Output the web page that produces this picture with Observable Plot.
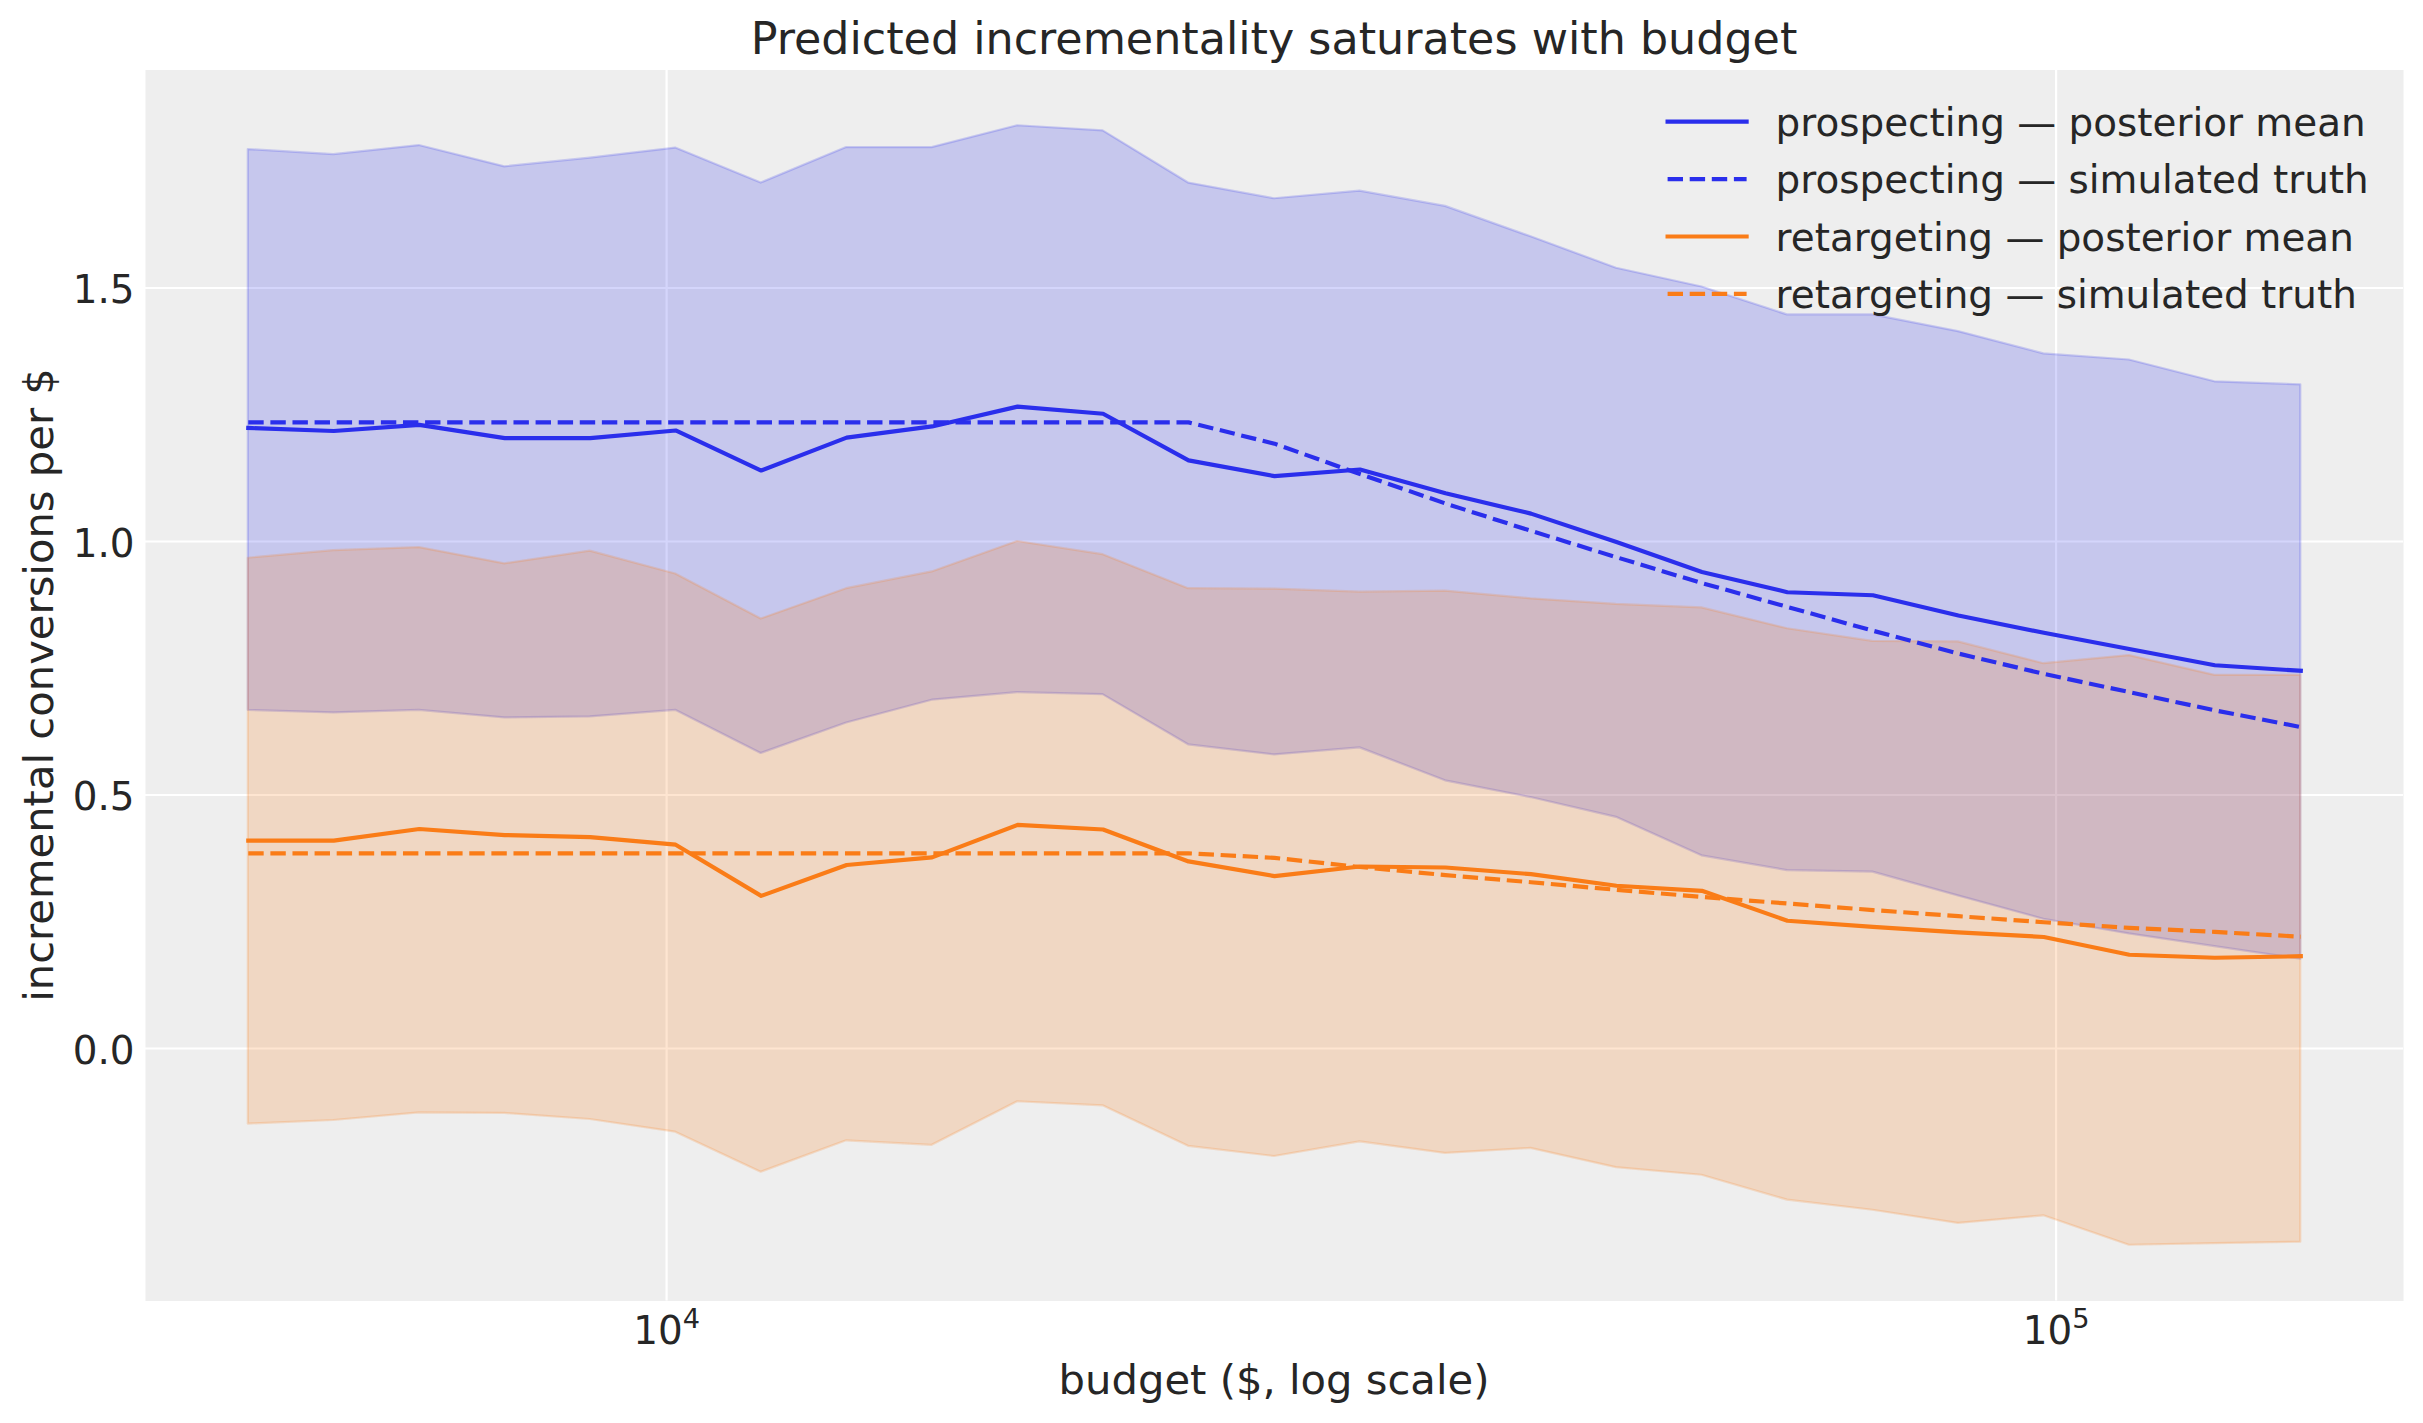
<!DOCTYPE html>
<html>
<head>
<meta charset="utf-8">
<script src="https://cdn.jsdelivr.net/npm/d3@7"></script>
<script src="https://cdn.jsdelivr.net/npm/@observablehq/plot@0.6"></script>
<style>
  html, body { margin: 0; padding: 0; background: #ffffff; }
  #wrap { position: relative; width: 2423px; height: 1423px; overflow: hidden; }
  #wrap svg { position: absolute; left: 0; top: 0; }
</style>
</head>
<body>
<div id="wrap"></div>
<script>
// ---- data ----
const budget = [5000, 5761, 6638, 7648, 8811, 10152, 11697, 13477, 15528, 17890, 20613, 23749,
  27386, 31553, 36355, 41887, 48261, 55605, 64066, 73815, 85047, 97989, 112900, 130080, 150000];

const prospMean = [1.224, 1.218, 1.230, 1.204, 1.204, 1.219, 1.140, 1.205, 1.227, 1.266, 1.252, 1.160,
  1.129, 1.142, 1.095, 1.055, 0.999, 0.940, 0.900, 0.894, 0.854, 0.820, 0.788, 0.756, 0.745];
const prospTruth = [1.235, 1.235, 1.235, 1.235, 1.235, 1.235, 1.235, 1.235, 1.235, 1.235, 1.235, 1.235,
  1.193, 1.133, 1.075, 1.021, 0.969, 0.918, 0.871, 0.824, 0.779, 0.739, 0.703, 0.667, 0.634];
const prospLow = [0.667, 0.662, 0.667, 0.652, 0.654, 0.667, 0.582, 0.642, 0.687, 0.702, 0.698, 0.599,
  0.579, 0.593, 0.528, 0.495, 0.456, 0.380, 0.351, 0.348, 0.301, 0.255, 0.226, 0.201, 0.176];
const prospHigh = [1.773, 1.763, 1.781, 1.739, 1.756, 1.776, 1.707, 1.777, 1.777, 1.820, 1.810, 1.707,
  1.676, 1.691, 1.661, 1.601, 1.539, 1.502, 1.447, 1.447, 1.414, 1.370, 1.358, 1.315, 1.309];

const retMean = [0.410, 0.410, 0.433, 0.421, 0.417, 0.402, 0.301, 0.362, 0.377, 0.441, 0.432, 0.369,
  0.340, 0.359, 0.357, 0.344, 0.321, 0.311, 0.252, 0.240, 0.229, 0.220, 0.185, 0.179, 0.182];
const retTruth = [0.385, 0.385, 0.385, 0.385, 0.385, 0.385, 0.385, 0.385, 0.385, 0.385, 0.385, 0.385,
  0.376, 0.358, 0.342, 0.328, 0.313, 0.299, 0.286, 0.273, 0.261, 0.249, 0.238, 0.230, 0.2205];
const retLow = [-0.149, -0.142, -0.127, -0.128, -0.140, -0.165, -0.244, -0.182, -0.191, -0.105, -0.113, -0.193,
  -0.213, -0.184, -0.207, -0.197, -0.235, -0.250, -0.299, -0.319, -0.345, -0.330, -0.388, -0.385, -0.382];
const retHigh = [0.967, 0.982, 0.988, 0.956, 0.981, 0.936, 0.847, 0.907, 0.940, 1.000, 0.974, 0.907,
  0.906, 0.900, 0.902, 0.887, 0.876, 0.869, 0.828, 0.803, 0.802, 0.759, 0.775, 0.736, 0.736];

const yTicks = [0, 0.5, 1.0, 1.5];
const xTicks = [1e4, 1e5];

const titleText = "Predicted incrementality saturates with budget";
const xLabel = "budget ($, log scale)";
const yLabel = "incremental conversions per $";
const legendLabels = [
  "prospecting \u2014 posterior mean",
  "prospecting \u2014 simulated truth",
  "retargeting \u2014 posterior mean",
  "retargeting \u2014 simulated truth"
];

// ---- styling ----
const W = 2423, H = 1423;
const blue = "#2a2eec", orange = "#fa7c17";
const textColor = "#262626";
const font = "'DejaVu Sans', sans-serif";
const lw = 4.17, dash = "15.4,6.7";
const sup = {"0":"\u2070","1":"\u00b9","2":"\u00b2","3":"\u00b3","4":"\u2074","5":"\u2075","6":"\u2076","7":"\u2077","8":"\u2078","9":"\u2079"};

const rows = budget.map((b, i) => ({
  budget: b,
  pMean: prospMean[i], pTruth: prospTruth[i], pLow: prospLow[i], pHigh: prospHigh[i],
  rMean: retMean[i], rTruth: retTruth[i], rLow: retLow[i], rHigh: retHigh[i]
}));

const chart = Plot.plot({
  width: W,
  height: H,
  marginLeft: 145,
  marginRight: 20,
  marginTop: 69.5,
  marginBottom: 122.5,
  style: {fontFamily: font, fontSize: "38.9px", color: textColor, background: "#ffffff"},
  x: {type: "log", domain: [4217, 177828]},
  y: {domain: [-0.498, 1.930]},
  marks: [
    Plot.frame({fill: "#eeeeee", stroke: "none"}),
    Plot.gridY(yTicks, {stroke: "#ffffff", strokeOpacity: 1, strokeWidth: 2.2}),
    Plot.gridX(xTicks, {stroke: "#ffffff", strokeOpacity: 1, strokeWidth: 2.2}),
    Plot.areaY(rows, {x: "budget", y1: "pLow", y2: "pHigh", fill: blue, fillOpacity: 0.2,
      stroke: blue, strokeOpacity: 0.2, strokeWidth: 2.2}),
    Plot.areaY(rows, {x: "budget", y1: "rLow", y2: "rHigh", fill: orange, fillOpacity: 0.2,
      stroke: orange, strokeOpacity: 0.2, strokeWidth: 2.2}),
    Plot.lineY(rows, {x: "budget", y: "pMean", stroke: blue, strokeWidth: lw,
      strokeLinejoin: "round", strokeLinecap: "square"}),
    Plot.lineY(rows, {x: "budget", y: "pTruth", stroke: blue, strokeWidth: lw,
      strokeDasharray: dash, strokeLinejoin: "round", strokeLinecap: "butt"}),
    Plot.lineY(rows, {x: "budget", y: "rMean", stroke: orange, strokeWidth: lw,
      strokeLinejoin: "round", strokeLinecap: "square"}),
    Plot.lineY(rows, {x: "budget", y: "rTruth", stroke: orange, strokeWidth: lw,
      strokeDasharray: dash, strokeLinejoin: "round", strokeLinecap: "butt"}),
    Plot.axisY(yTicks, {anchor: "left", tickSize: 0, tickPadding: 11, dy: 3,
      tickFormat: d3.format(".1f"), label: null, fontSize: 38.9, fill: textColor}),
    Plot.axisX(xTicks, {anchor: "bottom", tickSize: 0, tickPadding: 15,
      tickFormat: d => "10" + String(Math.round(Math.log10(d))).split("").map(c => sup[c]).join(""),
      label: null, fontSize: 38.9, fill: textColor})
  ]
});

// render x tick exponents as real superscripts (mathtext style)
chart.querySelectorAll('g[aria-label="x-axis tick label"] text').forEach(t => {
  const s = t.textContent;
  const rev = Object.fromEntries(Object.entries(sup).map(([k, v]) => [v, k]));
  const exp = s.slice(2).split("").map(c => rev[c] ?? c).join("");
  t.textContent = "10";
  const ts = document.createElementNS("http://www.w3.org/2000/svg", "tspan");
  ts.setAttribute("dy", "-16");
  ts.setAttribute("font-size", "27.2");
  ts.textContent = exp;
  t.appendChild(ts);
});

const wrap = document.getElementById("wrap");
wrap.appendChild(chart);

// ---- overlay: title, axis labels, legend ----
const ov = d3.select(wrap).append("svg")
  .attr("width", W).attr("height", H)
  .style("pointer-events", "none")
  .attr("font-family", font)
  .attr("fill", textColor);

ov.append("text")
  .attr("x", 1274).attr("y", 53.6)
  .attr("text-anchor", "middle")
  .attr("font-size", 44.4)
  .text(titleText);

ov.append("text")
  .attr("x", 1274).attr("y", 1393.5)
  .attr("text-anchor", "middle")
  .attr("font-size", 41.7)
  .text(xLabel);

ov.append("text")
  .attr("transform", "translate(53.3,685) rotate(-90)")
  .attr("text-anchor", "middle")
  .attr("font-size", 41.7)
  .text(yLabel);

const legendColors = [blue, blue, orange, orange];
const legendDash = [null, dash, null, dash];
const lg = ov.append("g");
legendLabels.forEach((lab, i) => {
  const y = 121.7 + i * 57.4;
  lg.append("line")
    .attr("x1", 1667.6).attr("x2", 1746.6).attr("y1", y).attr("y2", y)
    .attr("stroke", legendColors[i]).attr("stroke-width", lw)
    .attr("stroke-dasharray", legendDash[i])
    .attr("stroke-linecap", legendDash[i] ? "butt" : "square");
  lg.append("text")
    .attr("x", 1775.6).attr("y", y + 14.3)
    .attr("font-size", 38.9)
    .text(lab);
});
</script>
</body>
</html>
